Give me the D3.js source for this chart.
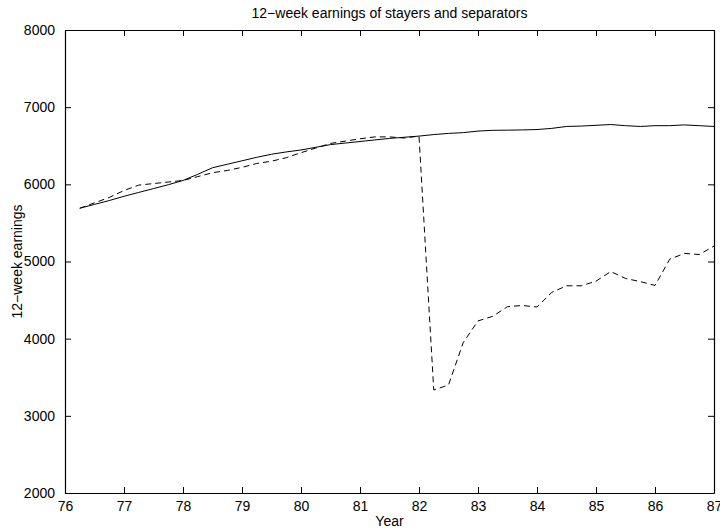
<!DOCTYPE html>
<html>
<head>
<meta charset="utf-8">
<script src="https://cdn.jsdelivr.net/npm/d3@7"></script>
<style>
	body { margin: 0; background: #fff; }
	svg { display: block; font-family: "Liberation Sans", Arial, sans-serif; }
</style>
</head>
<body>
<div id="chart"></div>
<script>
// quarterly observations, 76.25 .. 87.00
var years = d3.range(44).map(i => 76.25 + i * 0.25);

var stayers = [
	5690, 5740, 5790, 5845, 5895, 5945, 5995, 6050,
	6130, 6215, 6260, 6305, 6350, 6390, 6420, 6445,
	6480, 6515, 6535, 6555, 6575, 6595, 6610, 6625,
	6645, 6660, 6670, 6690, 6700, 6702, 6705, 6710,
	6725, 6750, 6755, 6765, 6775, 6760, 6750, 6760,
	6760, 6770, 6760, 6750
];

var separators = [
	5690, 5760, 5830, 5920, 5990, 6010, 6030, 6050,
	6100, 6150, 6180, 6220, 6270, 6300, 6345, 6410,
	6470, 6530, 6560, 6590, 6615, 6615, 6600, 6625,
	3335, 3400, 3950, 4230, 4290, 4415, 4430, 4410,
	4600, 4685, 4685, 4745, 4870, 4780, 4740, 4690,
	5030, 5105, 5090, 5200
];

var xTicks = d3.range(76, 88);
var yTicks = [2000, 3000, 4000, 5000, 6000, 7000, 8000];

var title = "12\u2212week earnings of stayers and separators";
var xLabel = "Year";
var yLabel = "12\u2212week earnings";

var width = 720, height = 529;
var margin = {top: 30, right: 6, bottom: 36, left: 65};
var tickLen = 6;
var fontSize = 14;

var svg = d3.select("#chart").append("svg")
	.attr("width", width)
	.attr("height", height);

var x = d3.scaleLinear().domain([76, 87]).range([margin.left, width - margin.right]);
var y = d3.scaleLinear().domain([2000, 8000]).range([height - margin.bottom, margin.top]);

// axes - ticks point inward on all four sides
var bottomAxis = d3.axisBottom(x).tickValues(xTicks).tickFormat(d3.format("d")).tickSizeInner(-tickLen).tickSizeOuter(0).tickPadding(tickLen + 2);
var topAxis = d3.axisTop(x).tickValues(xTicks).tickFormat("").tickSizeInner(-tickLen).tickSizeOuter(0);
var leftAxis = d3.axisLeft(y).tickValues(yTicks).tickFormat(d3.format("d")).tickSizeInner(-tickLen).tickSizeOuter(0).tickPadding(tickLen + 4);
var rightAxis = d3.axisRight(y).tickValues(yTicks).tickFormat("").tickSizeInner(-tickLen).tickSizeOuter(0);

function styleAxis(g) {
	g.select(".domain").attr("stroke", "#000").attr("stroke-width", 1.2);
	g.selectAll(".tick line").attr("stroke", "#000");
	g.selectAll(".tick text")
		.attr("fill", "#000")
		.style("font-family", "Liberation Sans, Arial, sans-serif")
		.style("font-size", fontSize + "px");
}

svg.append("g").attr("transform", "translate(0," + y(2000) + ")").call(bottomAxis).call(styleAxis);
svg.append("g").attr("transform", "translate(0," + y(8000) + ")").call(topAxis).call(styleAxis);
svg.append("g").attr("transform", "translate(" + x(76) + ",0)").call(leftAxis).call(styleAxis);
svg.append("g").attr("transform", "translate(" + x(87) + ",0)").call(rightAxis).call(styleAxis);

// series
var line = d3.line()
	.x((d, i) => x(years[i]))
	.y(d => y(d));

svg.append("path")
	.datum(stayers)
	.attr("fill", "none")
	.attr("stroke", "#000")
	.attr("stroke-width", 1)
	.attr("d", line);

svg.append("path")
	.datum(separators)
	.attr("fill", "none")
	.attr("stroke", "#000")
	.attr("stroke-width", 1)
	.attr("stroke-dasharray", "6,4")
	.attr("d", line);

// labels
svg.append("text")
	.attr("x", (x(76) + x(87)) / 2)
	.attr("y", 18)
	.attr("text-anchor", "middle")
	.style("font-size", fontSize + "px")
	.text(title);

svg.append("text")
	.attr("x", (x(76) + x(87)) / 2)
	.attr("y", 526)
	.attr("text-anchor", "middle")
	.style("font-size", fontSize + "px")
	.text(xLabel);

svg.append("text")
	.attr("transform", "translate(22," + y(5000) + ") rotate(-90)")
	.attr("text-anchor", "middle")
	.style("font-size", fontSize + "px")
	.text(yLabel);
</script>
</body>
</html>
